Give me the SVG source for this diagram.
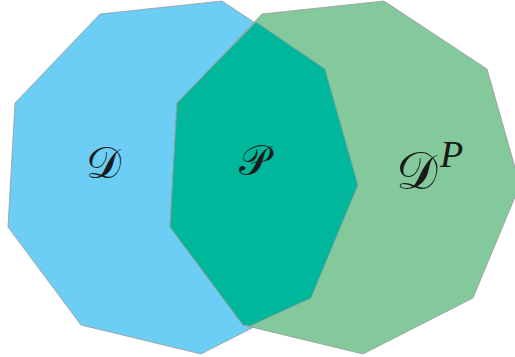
<svg xmlns="http://www.w3.org/2000/svg" width="515" height="357" viewBox="0 0 515 357">
<style>
.poly{stroke:#9a9a9a;stroke-width:0.8;stroke-linejoin:miter}
.lbl{font-family:"DejaVu Serif","Noto Sans",serif;fill:#1a1a1a}
.sup{font-family:"Liberation Serif",serif;font-style:italic;fill:#1a1a1a}
</style>
<g id="D">
<polygon class="poly" fill="#6CCDF5" points="100,14 222,1 325,69 358,185 311,298 201,354 81,325 8,227 15,103"/>
</g>
<g id="DP">
<polygon class="poly" fill="#83C99B" points="262,14 384,1 487,69 520,185 473,298 363,354 243,325 170,227 177,103"/>
</g>
<g id="P">
<polygon class="poly" fill="#00B69B" points="256,22 325,69 358,185 311,298 250,326 243,325 170,227 177,103"/>
</g>
<g id="labels">
<text class="lbl" x="86" y="178" font-size="44">𝒟</text>
<text class="lbl" x="239" y="175" font-size="42">𝒫</text>
<text class="lbl" x="396" y="189" font-size="52">𝒟</text>
<text class="sup" x="440" y="167" font-size="38">P</text>
</g>
<g id="connectors"/>
</svg>
